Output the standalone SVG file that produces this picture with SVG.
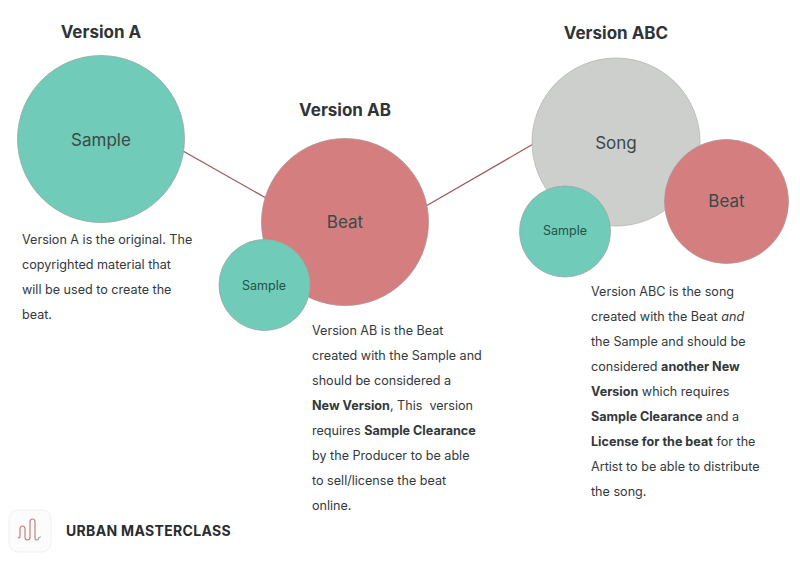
<svg xmlns="http://www.w3.org/2000/svg" width="800" height="564" viewBox="0 0 800 564">
<style>
text{font-family:"Inter","Liberation Sans",sans-serif}
.h{font-size:17px;font-weight:700;fill:#2f3438;text-anchor:middle}
.b{font-size:12.6px;fill:#33383b}
.b .s{font-weight:700}
.lbl{font-size:17px;fill:#3a4a48;text-anchor:middle}
.sm{font-size:12.5px;fill:#24524a;text-anchor:middle}
.t{fill:#70cbb8;stroke:#9aa8a2;stroke-width:.8}
.r{fill:#d57e80;stroke:#b09394;stroke-width:.8}
.g{fill:#cdcfcc;stroke:#b8b5b2;stroke-width:.8}
.c{stroke:#9c5457;stroke-width:1.2;fill:none}
</style>
<rect width="800" height="564" fill="#fff"/>
<g id="connectors">
<line class="c" x1="183" y1="151" x2="266" y2="198"/>
<line class="c" x1="426" y1="206" x2="535" y2="143"/>
</g>
<g id="version-a">
<text class="h" x="101" y="38">Version A</text>
<circle class="t" cx="101" cy="139" r="83.500"/>
<text class="lbl" x="101" y="146">Sample</text>
<text class="b" x="22" y="244">Version A is the original. The</text>
<text class="b" x="22" y="269">copyrighted material that</text>
<text class="b" x="22" y="294">will be used to create the</text>
<text class="b" x="22" y="319">beat.</text>
</g>
<g id="version-ab">
<text class="h" x="345" y="116">Version AB</text>
<circle class="r" cx="345" cy="222" r="83.500"/>
<text class="lbl" x="345" y="228">Beat</text>
<circle class="t" cx="264.500" cy="285" r="45.500"/>
<text class="sm" x="264" y="290">Sample</text>
<text class="b" x="312" y="335">Version AB is the Beat</text>
<text class="b" x="312" y="360">created with the Sample and</text>
<text class="b" x="312" y="385">should be considered a</text>
<text class="b" x="312" y="410" xml:space="preserve"><tspan class="s">New Version</tspan>, This  version</text>
<text class="b" x="312" y="435">requires <tspan class="s">Sample Clearance</tspan></text>
<text class="b" x="312" y="460">by the Producer to be able</text>
<text class="b" x="312" y="485">to sell/license the beat</text>
<text class="b" x="312" y="510">online.</text>
</g>
<g id="version-abc">
<text class="h" x="616" y="39">Version ABC</text>
<circle class="g" cx="616" cy="142" r="84"/>
<text class="lbl" x="616" y="149">Song</text>
<circle class="r" cx="726.500" cy="201.500" r="62"/>
<text class="lbl" x="726.500" y="207">Beat</text>
<circle class="t" cx="565" cy="231.500" r="45.500"/>
<text class="sm" x="565" y="235">Sample</text>
<text class="b" x="591" y="296">Version ABC is the song</text>
<text class="b" x="591" y="321">created with the Beat <tspan font-style="italic">and</tspan></text>
<text class="b" x="591" y="346">the Sample and should be</text>
<text class="b" x="591" y="371">considered <tspan class="s">another New</tspan></text>
<text class="b" x="591" y="396"><tspan class="s">Version</tspan> which requires</text>
<text class="b" x="591" y="421"><tspan class="s">Sample Clearance</tspan> and a</text>
<text class="b" x="591" y="446"><tspan class="s">License for the beat</tspan> for the</text>
<text class="b" x="591" y="471">Artist to be able to distribute</text>
<text class="b" x="591" y="496">the song.</text>
</g>
<g id="logo">
<rect x="9" y="510" width="42" height="42" rx="9" fill="#fbfcfb" stroke="#eff1f0"/>
<path d="M18 537q1 2 2 0v-8q0-3 2.500-3t2.500 3v8q0 3 2.500 3t2.500-3v-15q0-3 2.500-3t2.500 3v15q0 3 1 3" fill="none" stroke="#c77f80" stroke-width="1.200"/>
<path d="M36 540q2.500 0 2.500-1.500t2.500-1.500" fill="none" stroke="#8ea9a3" stroke-width="1.200"/>
<text x="66" y="536" font-size="14" font-weight="700" letter-spacing=".33" fill="#2a2c2e">URBAN MASTERCLASS</text>
</g>
</svg>
